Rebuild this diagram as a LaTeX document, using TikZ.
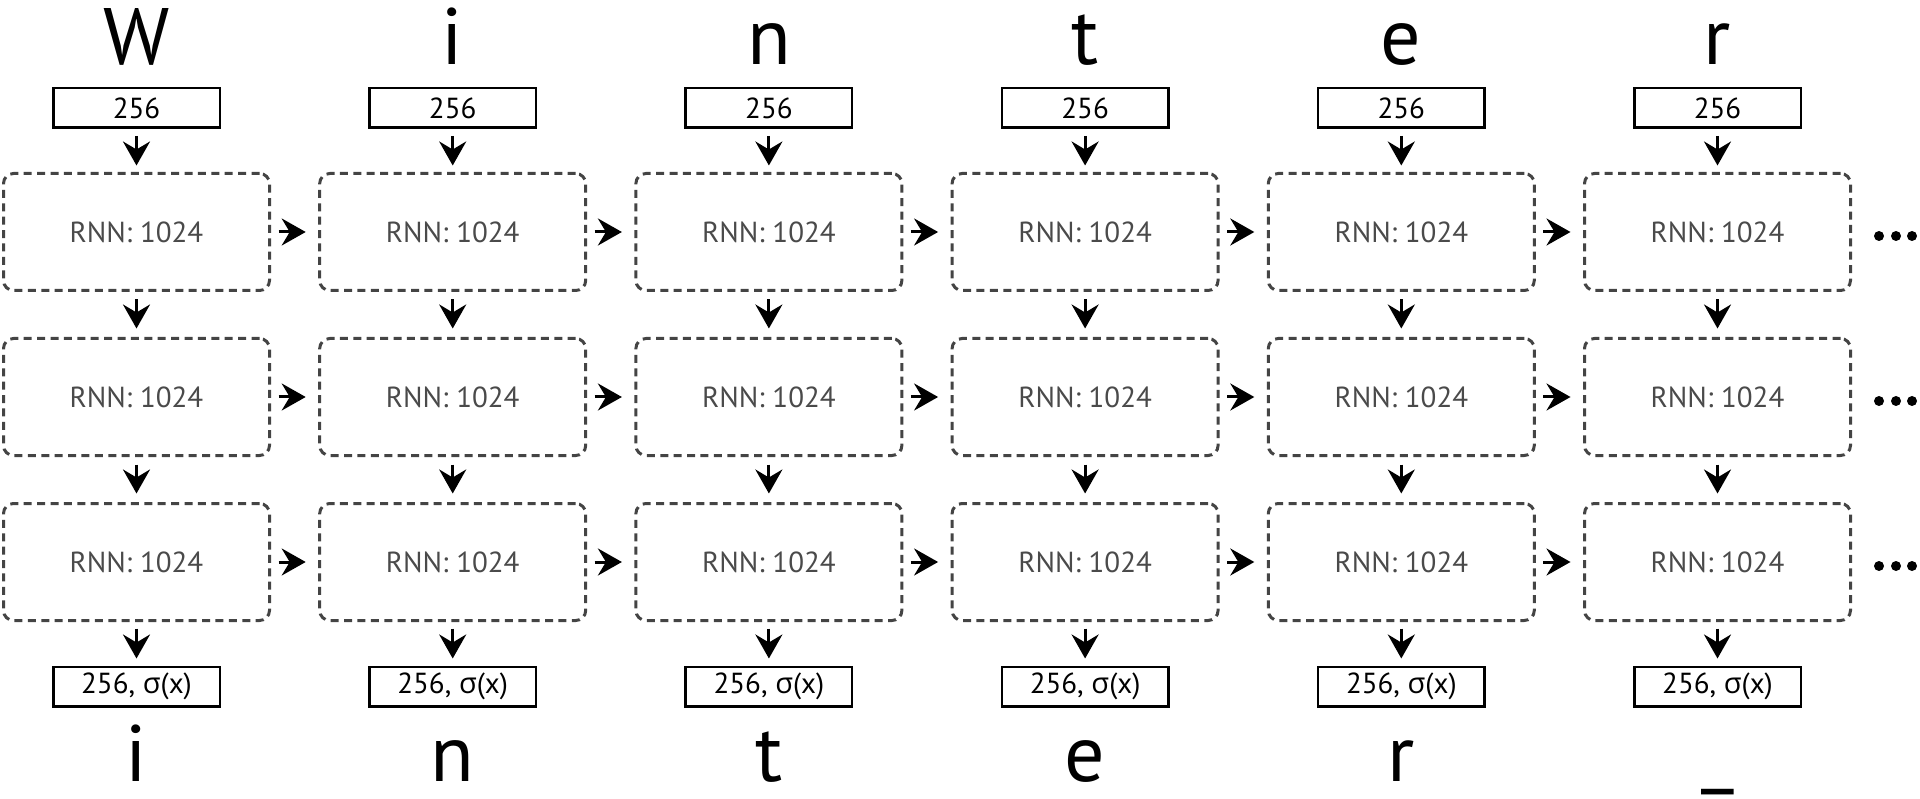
\documentclass[tikz,border=0pt]{standalone}
\usepackage{fontspec}
\setmainfont{PT Sans}
\newfontfamily\greekfont{Open Sans}
\usetikzlibrary{arrows.meta}
\definecolor{dashgray}{HTML}{444444}
\definecolor{textgray}{HTML}{4A4A4A}

\begin{document}
\begin{tikzpicture}[x=1pt,y=-1pt,
  cell/.style={draw=dashgray, line width=3pt, dash pattern=on 8pt off 5.4pt,
    rounded corners=10pt, minimum width=266pt, minimum height=117pt,
    inner sep=0pt, text=textgray, font=\fontsize{29}{34}\selectfont},
  iobox/.style={draw=black, line width=2.5pt, minimum width=166.5pt,
    minimum height=39.5pt, inner sep=0pt, font=\fontsize{29}{34}\selectfont},
  glyph/.style={anchor=base, inner sep=0pt, font=\fontsize{80}{90}\selectfont},
  flow/.style={line width=3pt, -{Stealth[length=24pt,width=27pt,inset=8pt]}},
]
\useasboundingbox (0,0) rectangle (1920,799);

% one column per time step
\foreach \i/\a/\b in {0/W/i, 1/i/n, 2/n/t, 3/t/e, 4/e/r, 5/r/{\raisebox{3pt}{\_}}} {
  \pgfmathsetmacro\cx{136.5+316.2*\i}
  \node[glyph] (top\i) at (\cx,65) {\a};
  \node[iobox] (in\i) at (\cx,108) {256};
  \node[cell] (ra\i) at (\cx,232) {RNN: 1024};
  \node[cell] (rb\i) at (\cx,397) {RNN: 1024};
  \node[cell] (rc\i) at (\cx,562) {RNN: 1024};
  \node[iobox] (out\i) at (\cx,686.5) {256, {\greekfont σ}(x)};
  \node[glyph] (bot\i) at (\cx,781) {\b};
  \draw[flow, shorten <=7pt, shorten >=6.5pt] (in\i.south) -- (ra\i.north);
  \draw[flow, shorten <=7.5pt, shorten >=8.5pt] (ra\i.south) -- (rb\i.north);
  \draw[flow, shorten <=7.5pt, shorten >=8.5pt] (rb\i.south) -- (rc\i.north);
  \draw[flow, shorten <=6.5pt, shorten >=7pt] (rc\i.south) -- (out\i.north);
}

% recurrent connections between neighbouring steps
\foreach \i in {0,...,4} {
  \pgfmathtruncatemacro\j{\i+1}
  \foreach \r in {ra,rb,rc} {
    \draw[flow, shorten <=7.5pt, shorten >=12.5pt] (\r\i.east) -- (\r\j.west);
  }
}

% continuation marks
\foreach \y in {236,401,566} {
  \foreach \x in {1879,1896,1912} {
    \fill (\x,\y) circle[radius=5pt];
  }
}
\end{tikzpicture}
\end{document}
